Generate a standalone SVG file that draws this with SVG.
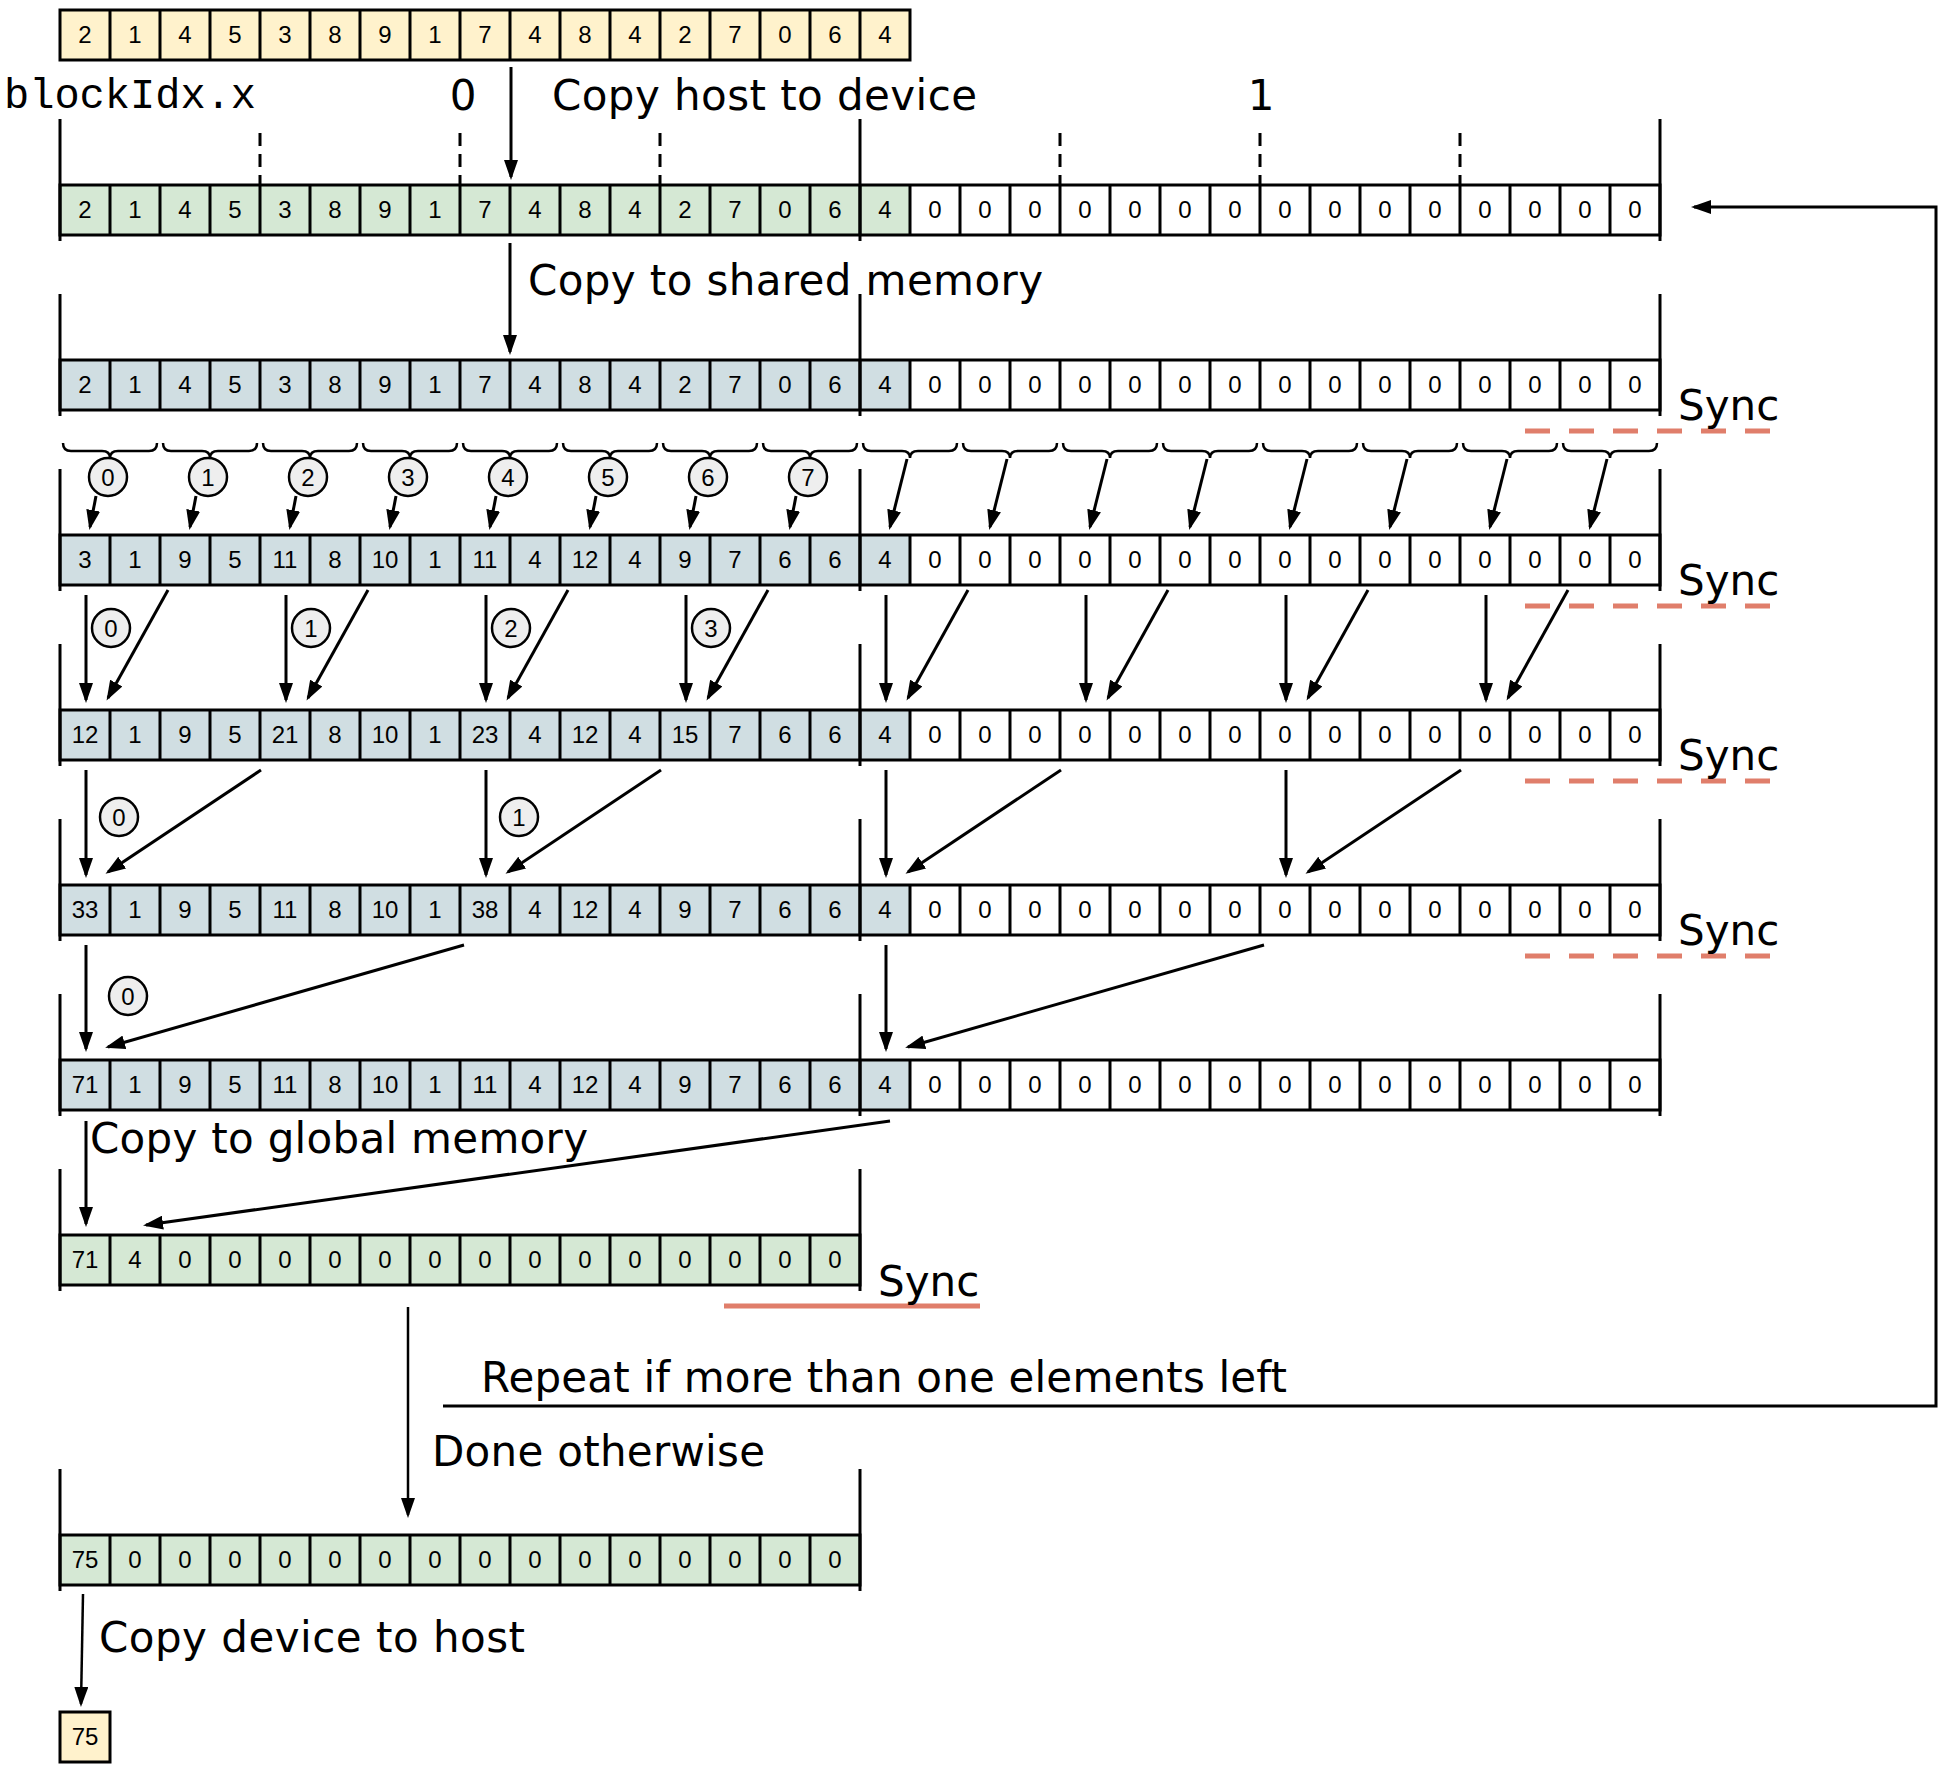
<svg xmlns="http://www.w3.org/2000/svg" xmlns:xlink="http://www.w3.org/1999/xlink" width="1946" height="1773" viewBox="0 0 1946 1773">
<style>
.n text{font-family:"Liberation Sans",Arial,sans-serif;font-size:24px;text-anchor:middle;fill:#000}
.grid{fill:none;stroke:#000;stroke-width:3}
.frame{fill:none;stroke:#000;stroke-width:3}
.tick{stroke:#000;stroke-width:3;stroke-dasharray:13 8}
.yel{fill:#FFF2CC}.grn{fill:#D5E8D4}.blu{fill:#D0DEE2}.wht{fill:#FFFFFF}
.lbl{font-family:"DejaVu Sans","Noto Sans",sans-serif;font-size:42px;fill:#000}
.mono{font-family:"Liberation Mono","Courier New",monospace;font-size:42px;fill:#000}
.arr{fill:none;stroke:#000;stroke-width:3;marker-end:url(#ah)}
.brace{fill:none;stroke:#000;stroke-width:2.5}
.circ circle{fill:#EEEEEE;stroke:#000;stroke-width:2.5}
.circ text{font-family:"Liberation Sans",Arial,sans-serif;font-size:24px;text-anchor:middle;fill:#000}
.syncd{stroke:#E07E6B;stroke-width:5;stroke-dasharray:25 19}
.syncs{stroke:#E07E6B;stroke-width:5}
</style>
<defs>
<marker id="ah" markerUnits="userSpaceOnUse" markerWidth="20" markerHeight="14" refX="17" refY="7" orient="auto"><path d="M0,0 L20,7 L0,14 Z" fill="#000"/></marker>
<path id="grid32" class="grid" d="M60,0H1660V50H60Z M110,0v50M160,0v50M210,0v50M260,0v50M310,0v50M360,0v50M410,0v50M460,0v50M510,0v50M560,0v50M610,0v50M660,0v50M710,0v50M760,0v50M810,0v50M860,0v50M910,0v50M960,0v50M1010,0v50M1060,0v50M1110,0v50M1160,0v50M1210,0v50M1260,0v50M1310,0v50M1360,0v50M1410,0v50M1460,0v50M1510,0v50M1560,0v50M1610,0v50"/>
<path id="grid17" class="grid" d="M60,0H910V50H60Z M110,0v50M160,0v50M210,0v50M260,0v50M310,0v50M360,0v50M410,0v50M460,0v50M510,0v50M560,0v50M610,0v50M660,0v50M710,0v50M760,0v50M810,0v50M860,0v50"/>
<path id="grid16" class="grid" d="M60,0H860V50H60Z M110,0v50M160,0v50M210,0v50M260,0v50M310,0v50M360,0v50M410,0v50M460,0v50M510,0v50M560,0v50M610,0v50M660,0v50M710,0v50M760,0v50M810,0v50"/>
<path id="frame3" class="frame" d="M60,-66V56M860,-66V56M1660,-66V56"/>
<path id="frame2" class="frame" d="M60,-66V56M860,-66V56"/>
<path id="brace" class="brace" d="M63,443q0,8 8,8h31q8,0 8,7q0,-7 8,-7h31q8,0 8,-8"/>
<g id="zeros15" font-family="Liberation Sans, Arial, sans-serif" font-size="24" text-anchor="middle" fill="#000">
<text x="935" y="33">0</text><text x="985" y="33">0</text><text x="1035" y="33">0</text><text x="1085" y="33">0</text><text x="1135" y="33">0</text><text x="1185" y="33">0</text><text x="1235" y="33">0</text><text x="1285" y="33">0</text><text x="1335" y="33">0</text><text x="1385" y="33">0</text><text x="1435" y="33">0</text><text x="1485" y="33">0</text><text x="1535" y="33">0</text><text x="1585" y="33">0</text><text x="1635" y="33">0</text>
</g>
</defs>
<rect width="1946" height="1773" fill="#fff"/>

<g id="row-host" class="n" transform="translate(0,10)">
<rect class="yel" x="60" y="0" width="850" height="50"/>
<use xlink:href="#grid17"/>
<text x="85" y="33">2</text><text x="135" y="33">1</text><text x="185" y="33">4</text><text x="235" y="33">5</text><text x="285" y="33">3</text><text x="335" y="33">8</text><text x="385" y="33">9</text><text x="435" y="33">1</text><text x="485" y="33">7</text><text x="535" y="33">4</text><text x="585" y="33">8</text><text x="635" y="33">4</text><text x="685" y="33">2</text><text x="735" y="33">7</text><text x="785" y="33">0</text><text x="835" y="33">6</text><text x="885" y="33">4</text>
</g>

<g id="row-global" class="n" transform="translate(0,185)">
<rect class="grn" x="60" y="0" width="850" height="50"/>
<rect class="wht" x="910" y="0" width="750" height="50"/>
<use xlink:href="#grid32"/>
<use xlink:href="#frame3"/>
<path class="tick" d="M260,-52V0M460,-52V0M660,-52V0M1060,-52V0M1260,-52V0M1460,-52V0"/>
<text x="85" y="33">2</text><text x="135" y="33">1</text><text x="185" y="33">4</text><text x="235" y="33">5</text><text x="285" y="33">3</text><text x="335" y="33">8</text><text x="385" y="33">9</text><text x="435" y="33">1</text><text x="485" y="33">7</text><text x="535" y="33">4</text><text x="585" y="33">8</text><text x="635" y="33">4</text><text x="685" y="33">2</text><text x="735" y="33">7</text><text x="785" y="33">0</text><text x="835" y="33">6</text><text x="885" y="33">4</text>
<use xlink:href="#zeros15"/>
</g>

<g id="row-shared" class="n" transform="translate(0,360)">
<rect class="blu" x="60" y="0" width="850" height="50"/>
<rect class="wht" x="910" y="0" width="750" height="50"/>
<use xlink:href="#grid32"/>
<use xlink:href="#frame3"/>
<text x="85" y="33">2</text><text x="135" y="33">1</text><text x="185" y="33">4</text><text x="235" y="33">5</text><text x="285" y="33">3</text><text x="335" y="33">8</text><text x="385" y="33">9</text><text x="435" y="33">1</text><text x="485" y="33">7</text><text x="535" y="33">4</text><text x="585" y="33">8</text><text x="635" y="33">4</text><text x="685" y="33">2</text><text x="735" y="33">7</text><text x="785" y="33">0</text><text x="835" y="33">6</text><text x="885" y="33">4</text>
<use xlink:href="#zeros15"/>
</g>

<g id="row-step1" class="n" transform="translate(0,535)">
<rect class="blu" x="60" y="0" width="850" height="50"/>
<rect class="wht" x="910" y="0" width="750" height="50"/>
<use xlink:href="#grid32"/>
<use xlink:href="#frame3"/>
<text x="85" y="33">3</text><text x="135" y="33">1</text><text x="185" y="33">9</text><text x="235" y="33">5</text><text x="285" y="33">11</text><text x="335" y="33">8</text><text x="385" y="33">10</text><text x="435" y="33">1</text><text x="485" y="33">11</text><text x="535" y="33">4</text><text x="585" y="33">12</text><text x="635" y="33">4</text><text x="685" y="33">9</text><text x="735" y="33">7</text><text x="785" y="33">6</text><text x="835" y="33">6</text><text x="885" y="33">4</text>
<use xlink:href="#zeros15"/>
</g>

<g id="row-step2" class="n" transform="translate(0,710)">
<rect class="blu" x="60" y="0" width="850" height="50"/>
<rect class="wht" x="910" y="0" width="750" height="50"/>
<use xlink:href="#grid32"/>
<use xlink:href="#frame3"/>
<text x="85" y="33">12</text><text x="135" y="33">1</text><text x="185" y="33">9</text><text x="235" y="33">5</text><text x="285" y="33">21</text><text x="335" y="33">8</text><text x="385" y="33">10</text><text x="435" y="33">1</text><text x="485" y="33">23</text><text x="535" y="33">4</text><text x="585" y="33">12</text><text x="635" y="33">4</text><text x="685" y="33">15</text><text x="735" y="33">7</text><text x="785" y="33">6</text><text x="835" y="33">6</text><text x="885" y="33">4</text>
<use xlink:href="#zeros15"/>
</g>

<g id="row-step3" class="n" transform="translate(0,885)">
<rect class="blu" x="60" y="0" width="850" height="50"/>
<rect class="wht" x="910" y="0" width="750" height="50"/>
<use xlink:href="#grid32"/>
<use xlink:href="#frame3"/>
<text x="85" y="33">33</text><text x="135" y="33">1</text><text x="185" y="33">9</text><text x="235" y="33">5</text><text x="285" y="33">11</text><text x="335" y="33">8</text><text x="385" y="33">10</text><text x="435" y="33">1</text><text x="485" y="33">38</text><text x="535" y="33">4</text><text x="585" y="33">12</text><text x="635" y="33">4</text><text x="685" y="33">9</text><text x="735" y="33">7</text><text x="785" y="33">6</text><text x="835" y="33">6</text><text x="885" y="33">4</text>
<use xlink:href="#zeros15"/>
</g>

<g id="row-step4" class="n" transform="translate(0,1060)">
<rect class="blu" x="60" y="0" width="850" height="50"/>
<rect class="wht" x="910" y="0" width="750" height="50"/>
<use xlink:href="#grid32"/>
<use xlink:href="#frame3"/>
<text x="85" y="33">71</text><text x="135" y="33">1</text><text x="185" y="33">9</text><text x="235" y="33">5</text><text x="285" y="33">11</text><text x="335" y="33">8</text><text x="385" y="33">10</text><text x="435" y="33">1</text><text x="485" y="33">11</text><text x="535" y="33">4</text><text x="585" y="33">12</text><text x="635" y="33">4</text><text x="685" y="33">9</text><text x="735" y="33">7</text><text x="785" y="33">6</text><text x="835" y="33">6</text><text x="885" y="33">4</text>
<use xlink:href="#zeros15"/>
</g>

<g id="row-partial" class="n" transform="translate(0,1235)">
<rect class="grn" x="60" y="0" width="800" height="50"/>
<use xlink:href="#grid16"/>
<use xlink:href="#frame2"/>
<text x="85" y="33">71</text><text x="135" y="33">4</text><text x="185" y="33">0</text><text x="235" y="33">0</text><text x="285" y="33">0</text><text x="335" y="33">0</text><text x="385" y="33">0</text><text x="435" y="33">0</text><text x="485" y="33">0</text><text x="535" y="33">0</text><text x="585" y="33">0</text><text x="635" y="33">0</text><text x="685" y="33">0</text><text x="735" y="33">0</text><text x="785" y="33">0</text><text x="835" y="33">0</text>
</g>

<g id="row-result" class="n" transform="translate(0,1535)">
<rect class="grn" x="60" y="0" width="800" height="50"/>
<use xlink:href="#grid16"/>
<use xlink:href="#frame2"/>
<text x="85" y="33">75</text><text x="135" y="33">0</text><text x="185" y="33">0</text><text x="235" y="33">0</text><text x="285" y="33">0</text><text x="335" y="33">0</text><text x="385" y="33">0</text><text x="435" y="33">0</text><text x="485" y="33">0</text><text x="535" y="33">0</text><text x="585" y="33">0</text><text x="635" y="33">0</text><text x="685" y="33">0</text><text x="735" y="33">0</text><text x="785" y="33">0</text><text x="835" y="33">0</text>
</g>

<g id="host-result" class="n" transform="translate(0,1712)">
<rect class="grid" x="60" y="0" width="50" height="50" style="fill:#FFF2CC"/>
<text x="85" y="33">75</text>
</g>

<g id="braces">
<use xlink:href="#brace" x="0"/><use xlink:href="#brace" x="100"/><use xlink:href="#brace" x="200"/><use xlink:href="#brace" x="300"/><use xlink:href="#brace" x="400"/><use xlink:href="#brace" x="500"/><use xlink:href="#brace" x="600"/><use xlink:href="#brace" x="700"/><use xlink:href="#brace" x="800"/><use xlink:href="#brace" x="900"/><use xlink:href="#brace" x="1000"/><use xlink:href="#brace" x="1100"/><use xlink:href="#brace" x="1200"/><use xlink:href="#brace" x="1300"/><use xlink:href="#brace" x="1400"/><use xlink:href="#brace" x="1500"/>
</g>

<g id="connectors">
<path class="arr" d="M511,67V177"/>
<path class="arr" d="M510,243V352"/>
<path class="arr" d="M96,496L90,527"/><path class="arr" d="M196,496L190,527"/><path class="arr" d="M296,496L290,527"/><path class="arr" d="M396,496L390,527"/><path class="arr" d="M496,496L490,527"/><path class="arr" d="M596,496L590,527"/><path class="arr" d="M696,496L690,527"/><path class="arr" d="M796,496L790,527"/>
<path class="arr" d="M907,459L890,527"/><path class="arr" d="M1007,459L990,527"/><path class="arr" d="M1107,459L1090,527"/><path class="arr" d="M1207,459L1190,527"/><path class="arr" d="M1307,459L1290,527"/><path class="arr" d="M1407,459L1390,527"/><path class="arr" d="M1507,459L1490,527"/><path class="arr" d="M1607,459L1590,527"/>
<path class="arr" d="M86,595V700"/><path class="arr" d="M168,590L108,698"/>
<path class="arr" d="M286,595V700"/><path class="arr" d="M368,590L308,698"/>
<path class="arr" d="M486,595V700"/><path class="arr" d="M568,590L508,698"/>
<path class="arr" d="M686,595V700"/><path class="arr" d="M768,590L708,698"/>
<path class="arr" d="M886,595V700"/><path class="arr" d="M968,590L908,698"/>
<path class="arr" d="M1086,595V700"/><path class="arr" d="M1168,590L1108,698"/>
<path class="arr" d="M1286,595V700"/><path class="arr" d="M1368,590L1308,698"/>
<path class="arr" d="M1486,595V700"/><path class="arr" d="M1568,590L1508,698"/>
<path class="arr" d="M86,770V875"/><path class="arr" d="M261,770L108,872"/>
<path class="arr" d="M486,770V875"/><path class="arr" d="M661,770L508,872"/>
<path class="arr" d="M886,770V875"/><path class="arr" d="M1061,770L908,872"/>
<path class="arr" d="M1286,770V875"/><path class="arr" d="M1461,770L1308,872"/>
<path class="arr" d="M86,945V1049"/><path class="arr" d="M464,945L108,1047"/>
<path class="arr" d="M886,945V1049"/><path class="arr" d="M1264,945L908,1047"/>
<path class="arr" d="M86,1121V1224"/><path class="arr" d="M890,1121L146,1225"/>
<path class="arr" d="M408,1307V1515" style="stroke-width:2.5"/>
<path class="arr" d="M83,1594L81,1704" style="stroke-width:2.5"/>
<path class="arr" d="M443,1406H1936V207H1694"/>
</g>

<g id="step-labels" class="circ">
<circle cx="108" cy="477" r="19"/><text x="108" y="485.5">0</text>
<circle cx="208" cy="477" r="19"/><text x="208" y="485.5">1</text>
<circle cx="308" cy="477" r="19"/><text x="308" y="485.5">2</text>
<circle cx="408" cy="477" r="19"/><text x="408" y="485.5">3</text>
<circle cx="508" cy="477" r="19"/><text x="508" y="485.5">4</text>
<circle cx="608" cy="477" r="19"/><text x="608" y="485.5">5</text>
<circle cx="708" cy="477" r="19"/><text x="708" y="485.5">6</text>
<circle cx="808" cy="477" r="19"/><text x="808" y="485.5">7</text>
<circle cx="111" cy="628" r="19"/><text x="111" y="636.5">0</text>
<circle cx="311" cy="628" r="19"/><text x="311" y="636.5">1</text>
<circle cx="511" cy="628" r="19"/><text x="511" y="636.5">2</text>
<circle cx="711" cy="628" r="19"/><text x="711" y="636.5">3</text>
<circle cx="119" cy="817" r="19"/><text x="119" y="825.5">0</text>
<circle cx="519" cy="817" r="19"/><text x="519" y="825.5">1</text>
<circle cx="128" cy="996" r="19"/><text x="128" y="1004.5">0</text>
</g>

<g id="sync-marks">
<path class="syncd" d="M1525,431H1770M1525,606H1770M1525,781H1770M1525,956H1770"/>
<path class="syncs" d="M724,1306H980"/>
<text class="lbl" x="1678" y="420">Sync</text>
<text class="lbl" x="1678" y="595">Sync</text>
<text class="lbl" x="1678" y="770">Sync</text>
<text class="lbl" x="1678" y="945">Sync</text>
<text class="lbl" x="878" y="1296">Sync</text>
</g>

<g id="labels">
<text class="mono" x="4" y="108">blockIdx.x</text>
<text class="lbl" x="463" y="110" text-anchor="middle">0</text>
<text class="lbl" x="1261" y="110" text-anchor="middle">1</text>
<text class="lbl" x="552" y="110" textLength="425">Copy host to device</text>
<text class="lbl" x="528" y="295" textLength="515">Copy to shared memory</text>
<text class="lbl" x="90" y="1153" textLength="498">Copy to global memory</text>
<text class="lbl" x="481" y="1392" textLength="806">Repeat if more than one elements left</text>
<text class="lbl" x="432" y="1466" textLength="333">Done otherwise</text>
<text class="lbl" x="99" y="1652" textLength="426">Copy device to host</text>
</g>
</svg>
